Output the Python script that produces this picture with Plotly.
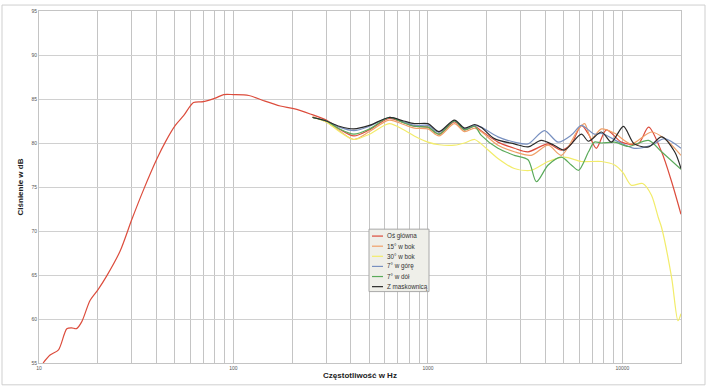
import plotly.graph_objects as go

# ---- data ----
f_main = [10.5, 11.4, 12.6, 13.9, 14.7, 15.6, 16.6, 18.3, 20.2, 22.3, 26.1, 30, 34.5, 40.4, 44.6,
          50.2, 55.4, 62.3, 70, 80.6, 89, 100, 120, 143, 174, 204, 248, 300, 350, 416, 500, 632,
          750, 850, 1000, 1140, 1368, 1542, 1738, 1875, 2290, 2780, 3270, 4150, 4850, 5460, 6150,
          6690, 7340, 8270, 9880, 12040, 13630, 15890, 17900, 20000]
v_main = [55.0, 55.9, 56.5, 58.9, 59.0, 58.9, 59.7, 62.1, 63.4, 64.9, 67.7, 71.3, 74.7, 78.2, 80.1,
          82.0, 83.1, 84.6, 84.7, 85.1, 85.5, 85.5, 85.4, 84.8, 84.2, 83.9, 83.3, 82.6, 81.6, 80.8,
          81.5, 82.8, 82.3, 81.9, 81.8, 81.0, 82.4, 81.5, 81.9, 81.4, 80.1, 79.4, 79.0, 79.9, 79.2,
          79.9, 82.0, 81.0, 79.4, 81.5, 80.1, 79.9, 81.8, 79.0, 75.6, 71.9]

f_15 = [255, 300, 350, 416, 500, 632, 750, 850, 1000, 1140, 1368, 1542, 1738, 1875, 2290, 2780,
        3395, 4150, 4850, 5950, 6390, 6920, 7800, 9120, 11100, 14080, 16470, 20000]
v_15 = [83.0, 82.4, 81.4, 80.4, 81.3, 82.6, 82.1, 81.7, 81.6, 80.8, 82.2, 81.3, 81.7, 81.3, 79.75,
        79.0, 78.6, 79.75, 78.6, 81.6, 82.2, 80.5, 81.6, 81.1, 79.9, 81.25, 80.5, 78.6]

f_30 = [255, 300, 350, 416, 500, 632, 750, 850, 1000, 1140, 1368, 1542, 1738, 1875, 2290, 2780,
        3395, 4150, 5030, 6150, 7800, 9120, 10080, 11100, 12700, 14080, 15300, 15890, 17900,
        19300, 20000]
v_30 = [82.9, 82.4, 81.3, 80.4, 81.0, 82.2, 81.5, 80.8, 80.1, 79.8, 79.75, 80.0, 80.4, 79.9, 78.25,
        77.1, 76.9, 77.9, 78.4, 77.9, 77.9, 77.5, 76.6, 75.2, 75.4, 74.1, 71.5, 70.4, 64.7,
        59.8, 60.6]

f_up = [255, 300, 350, 416, 500, 632, 750, 850, 1000, 1140, 1368, 1542, 1738, 1875, 2290, 2780,
        3270, 3970, 4665, 5460, 6150, 7170, 7800, 9600, 11500, 14080, 16470, 20000]
v_up = [82.9, 82.5, 81.8, 81.4, 81.9, 82.9, 82.4, 82.0, 82.0, 81.2, 82.5, 81.6, 82.0, 81.8, 80.7,
        80.1, 79.9, 81.4, 80.1, 80.9, 82.0, 81.0, 81.1, 80.1, 79.4, 79.75, 80.5, 79.4]

f_down = [255, 300, 350, 416, 500, 632, 750, 850, 1000, 1140, 1368, 1542, 1738, 1875, 2290, 2780,
          3270, 3610, 4150, 4850, 5460, 5950, 6690, 7170, 7800, 9120, 10720, 13630, 15890, 20000]
v_down = [82.9, 82.5, 81.6, 81.0, 81.6, 82.9, 82.3, 81.9, 81.8, 81.0, 82.5, 81.5, 81.9, 80.9, 79.4,
          78.6, 78.1, 75.6, 77.5, 78.4, 77.5, 76.9, 79.0, 80.1, 80.0, 80.1, 79.6, 80.3, 79.0, 77.0]

f_grill = [255, 300, 350, 416, 500, 632, 750, 850, 1000, 1140, 1368, 1542, 1738, 1875, 2195, 2780,
           3270, 3820, 4450, 5030, 6150, 6690, 7800, 8770, 10110, 11500, 13630, 15890, 18550, 20000]
v_grill = [82.9, 82.5, 81.9, 81.6, 82.0, 82.9, 82.5, 82.2, 82.2, 81.3, 82.6, 81.7, 82.1, 81.8, 80.5,
           79.9, 79.56, 80.3, 79.75, 79.2, 81.0, 80.2, 81.25, 80.1, 81.9, 79.9, 79.56, 80.7, 79.0, 77.1]

series_names = ["Oś główna", "15° w bok", "30° w bok", "7° w górę", "7° w dół", "Z maskownicą"]
series_f = [f_main, f_15, f_30, f_up, f_down, f_grill]
series_v = [v_main, v_15, v_30, v_up, v_down, v_grill]
series_colors = ["#dc4c3c", "#f0a068", "#f2ec6a", "#7890c0", "#5aaa5a", "#2a2a2a"]

x_grid = [10, 20, 30, 40, 50, 60, 70, 80, 90, 100, 200, 300, 400, 500, 600, 700, 800, 900,
          1000, 2000, 3000, 4000, 5000, 6000, 7000, 8000, 9000, 10000, 20000]
x_labels = {10: "10", 100: "100", 1000: "1000", 10000: "10000"}
y_ticks = [55, 60, 65, 70, 75, 80, 85, 90, 95]

# ---- figure ----
fig = go.Figure()
for name, fx, vy, col in zip(series_names, series_f, series_v, series_colors):
    fig.add_trace(go.Scatter(x=fx, y=vy, name=name, mode="lines", showlegend=False,
                             line=dict(color=col, width=1.2, shape="spline", smoothing=0.8)))

W, H = 708, 388
ml, mr, mt, mb = 39, 27, 8, 25
pw, ph = W - ml - mr, H - mt - mb


def px_x(px):
    return (px - ml) / pw


def px_y(py):
    return (H - mb - py) / ph


shapes = [dict(type="rect", xref="paper", yref="paper",
               x0=px_x(2), x1=px_x(705), y0=px_y(385), y1=px_y(2),
               line=dict(color="#cfcfcf", width=1), fillcolor="rgba(0,0,0,0)", layer="below")]

# compact legend box (drawn as shapes + text annotations)
box_l, box_r, box_t, box_b = 369, 429, 228, 291
shapes.append(dict(type="rect", xref="paper", yref="paper",
                   x0=px_x(box_l), x1=px_x(box_r), y0=px_y(box_b), y1=px_y(box_t),
                   line=dict(color="#a8a8a8", width=1), fillcolor="#efefe9", layer="above"))
annotations = []
for i, (name, col) in enumerate(zip(series_names, series_colors)):
    yc = 235 + i * 10.2
    shapes.append(dict(type="line", xref="paper", yref="paper",
                       x0=px_x(372), x1=px_x(383), y0=px_y(yc), y1=px_y(yc),
                       line=dict(color=col, width=1.2), layer="above"))
    annotations.append(dict(xref="paper", yref="paper", x=px_x(384.5), y=px_y(yc),
                            xanchor="left", yanchor="middle", showarrow=False,
                            text=name, font=dict(size=6.3, color="#333")))

fig.update_layout(
    width=W, height=H,
    margin=dict(l=ml, r=mr, t=mt, b=mb),
    paper_bgcolor="white", plot_bgcolor="white",
    font=dict(family="Liberation Sans, Arial, sans-serif", color="#333"),
    showlegend=False,
    shapes=shapes,
    annotations=annotations,
)

fig.update_xaxes(type="log", range=[1, 4.30103],
                 tickvals=x_grid, ticktext=[x_labels.get(v, "") for v in x_grid],
                 showgrid=True, gridcolor="#c4c4c4", gridwidth=1,
                 tickfont=dict(size=5, color="#555"), ticks="",
                 showline=True, linecolor="#c4c4c4", mirror=True, zeroline=False,
                 title=dict(text="<b>Częstotliwość w Hz</b>", font=dict(size=8, color="#222"), standoff=2))
fig.update_yaxes(range=[55, 95], tickvals=y_ticks,
                 showgrid=True, gridcolor="#d0d0d0", gridwidth=1,
                 tickfont=dict(size=5, color="#555"), ticks="",
                 showline=True, linecolor="#c4c4c4", mirror=True, zeroline=False,
                 title=dict(text="<b>Ciśnienie w dB</b>", font=dict(size=8, color="#222"), standoff=6))

fig.write_html("out.html")
